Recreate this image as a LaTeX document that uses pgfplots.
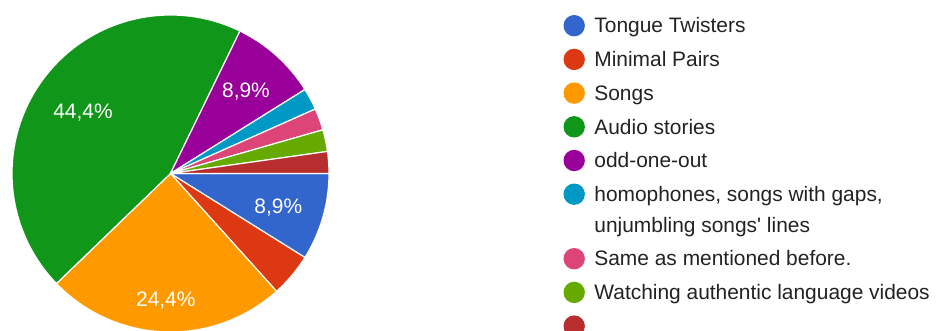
\documentclass[border=0pt]{standalone}
\usepackage{pgfplots}
\pgfplotsset{compat=1.18}
\usepackage{pgfplotstable}
\usepackage{fontspec}
\setmainfont{Liberation Sans}
\definecolor{gblue}{HTML}{3366CC}
\definecolor{gred}{HTML}{DC3912}
\definecolor{gorange}{HTML}{FF9900}
\definecolor{ggreen}{HTML}{109618}
\definecolor{gpurple}{HTML}{990099}
\definecolor{gcyan}{HTML}{0099C6}
\definecolor{gpink}{HTML}{DD4477}
\definecolor{glime}{HTML}{66AA00}
\definecolor{gdred}{HTML}{B82E2E}
\definecolor{legtext}{HTML}{222222}

% responses per option (clockwise from 3 o'clock)
\pgfplotstableread{
count color
4 gblue
2 gred
11 gorange
20 ggreen
4 gpurple
1 gcyan
1 gpink
1 glime
1 gdred
}\piedata

\def\pcx{170.5}
\def\pcy{157.5}
\def\pR{158.5}

\begin{document}
\begin{tikzpicture}
\useasboundingbox (0,0) rectangle (937bp,331bp);
\begin{axis}[
  x=1bp, y=1bp,
  xmin=0, xmax=937, ymin=0, ymax=331,
  hide axis,
  clip=true,
  legend image code/.code={\fill[#1,draw=none] (10.7bp,2.2bp) circle (10.7bp);},
  legend cell align=left,
  legend style={
    at={(axis cs:563.3,316.2)}, anchor=north west,
    draw=none, fill=none, inner sep=0pt,
    row sep=10.8bp, column sep=9.5bp,
    font=\fontsize{21}{24}\selectfont, text=legtext,
    nodes={inner sep=0pt, text height=15bp, text depth=5bp},
  },
]
\pgfplotstablegetrowsof{\piedata}
\pgfmathtruncatemacro\nrows{\pgfplotsretval-1}
\def\pietotal{0}
\pgfplotsforeachungrouped \i in {0,...,\nrows}{%
  \pgfplotstablegetelem{\i}{count}\of\piedata
  \pgfmathsetmacro\pietotal{\pietotal+\pgfplotsretval}}
\def\piecum{0}
\pgfplotsforeachungrouped \i in {0,...,\nrows}{%
  \pgfplotstablegetelem{\i}{count}\of\piedata \let\slicen\pgfplotsretval
  \pgfplotstablegetelem{\i}{color}\of\piedata \let\slicecol\pgfplotsretval
  \pgfmathsetmacro\slicestart{-360*\piecum/\pietotal}
  \pgfmathsetmacro\piecum{\piecum+\slicen}
  \pgfmathsetmacro\sliceend{-360*\piecum/\pietotal}
  \edef\temp{\noexpand\addplot[forget plot, fill=\slicecol, draw=white,
     line width=1.2pt, line join=round, domain=\sliceend:\slicestart,
     samples=90, variable=\noexpand\t]
     ({\pcx+\pR*cos(\noexpand\t)}, {\pcy+\pR*sin(\noexpand\t)})
     -- (axis cs:\pcx,\pcy) -- cycle;}%
  \temp
}

\begin{scope}[every node/.style={text=white, font=\fontsize{21}{24}\selectfont, anchor=base, inner sep=0pt}]
\node at (axis cs:83,212) {44,4\%};
\node at (axis cs:246,233.7) {8,9\%};
\node at (axis cs:278.3,117.7) {8,9\%};
\node at (axis cs:165.8,25) {24,4\%};
\end{scope}

\addlegendimage{fill=gblue}\addlegendentry{Tongue Twisters}
\addlegendimage{fill=gred}\addlegendentry{Minimal Pairs}
\addlegendimage{fill=gorange}\addlegendentry{Songs}
\addlegendimage{fill=ggreen}\addlegendentry{Audio stories}
\addlegendimage{fill=gpurple}\addlegendentry{odd-one-out}
\addlegendimage{fill=gcyan}\addlegendentry{homophones, songs with gaps,}
\addlegendimage{empty legend}\addlegendentry{unjumbling songs\textquotesingle\ lines}
\addlegendimage{fill=gpink}\addlegendentry{Same as mentioned before.}
\addlegendimage{fill=glime}\addlegendentry{Watching authentic language videos}
\addlegendimage{fill=gdred}\addlegendentry{}
\end{axis}
\end{tikzpicture}
\end{document}
